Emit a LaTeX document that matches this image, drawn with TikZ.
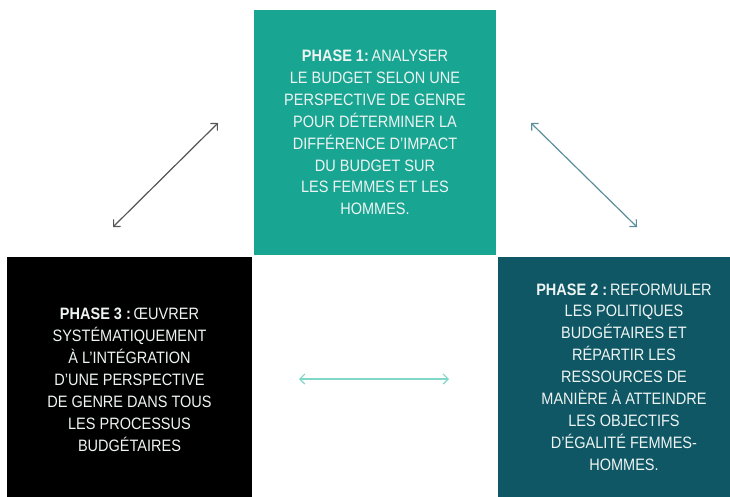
\documentclass[tikz,border=0pt]{standalone}
\usepackage{fontspec}
\setmainfont[FakeStretch=0.88]{Liberation Sans}
\usetikzlibrary{arrows.meta}
\definecolor{pone}{HTML}{18A693}
\definecolor{ptwo}{HTML}{0F5765}
\definecolor{pthree}{HTML}{000000}
\definecolor{txt}{HTML}{EEF4F2}
\definecolor{arrA}{HTML}{555555}
\definecolor{arrB}{HTML}{5B8E9B}
\definecolor{arrC}{HTML}{80D8C8}
\tikzset{
  phasebox/.style={draw=none, inner sep=0pt, text=txt, align=center,
    font=\fontsize{16.5}{21.9}\selectfont, anchor=center},
  link/.style={line width=1.2pt, {Straight Barb[length=5pt,width=10pt]}-{Straight Barb[length=5pt,width=10pt]}}
}
\begin{document}
\begin{tikzpicture}[x=1pt,y=-1pt]
\useasboundingbox (0,0) rectangle (730,496);
\fill[white] (0,0) rectangle (730,496);
\begin{scope}
\clip (0,0) rectangle (730,496);
\node[phasebox, fill=pone, minimum width=242pt, minimum height=245pt] (p1) at (375,132.5)
  {\textbf{PHASE 1:}\,ANALYSER\\LE BUDGET SELON UNE\\PERSPECTIVE DE GENRE\\POUR DÉTERMINER LA\\DIFFÉRENCE D’IMPACT\\DU BUDGET SUR\\LES FEMMES ET LES\\HOMMES.};
\node[phasebox, fill=pthree, minimum width=245pt, minimum height=246pt] (p3) at (129.5,380)
  {\textbf{PHASE 3 :}\,ŒUVRER\\SYSTÉMATIQUEMENT\\À L’INTÉGRATION\\D’UNE PERSPECTIVE\\DE GENRE DANS TOUS\\LES PROCESSUS\\BUDGÉTAIRES};
\node[phasebox, fill=ptwo, minimum width=252pt, minimum height=240pt] (p2) at (624,377)
  {\textbf{PHASE 2 :}\,REFORMULER\\LES POLITIQUES\\BUDGÉTAIRES ET\\RÉPARTIR LES\\RESSOURCES DE\\MANIÈRE À ATTEINDRE\\LES OBJECTIFS\\D’ÉGALITÉ FEMMES-\\HOMMES.};
\end{scope}
\coordinate (a1) at (113,227);
\coordinate (a2) at (218,123);
\coordinate (b1) at (531,123);
\coordinate (b2) at (637,227);
\coordinate (c1) at (299,379);
\coordinate (c2) at (449,379);
\draw[link, draw=arrA] (a1) -- (a2);
\draw[link, draw=arrB] (b1) -- (b2);
\draw[link, draw=arrC] (c1) -- (c2);
\end{tikzpicture}
\end{document}
